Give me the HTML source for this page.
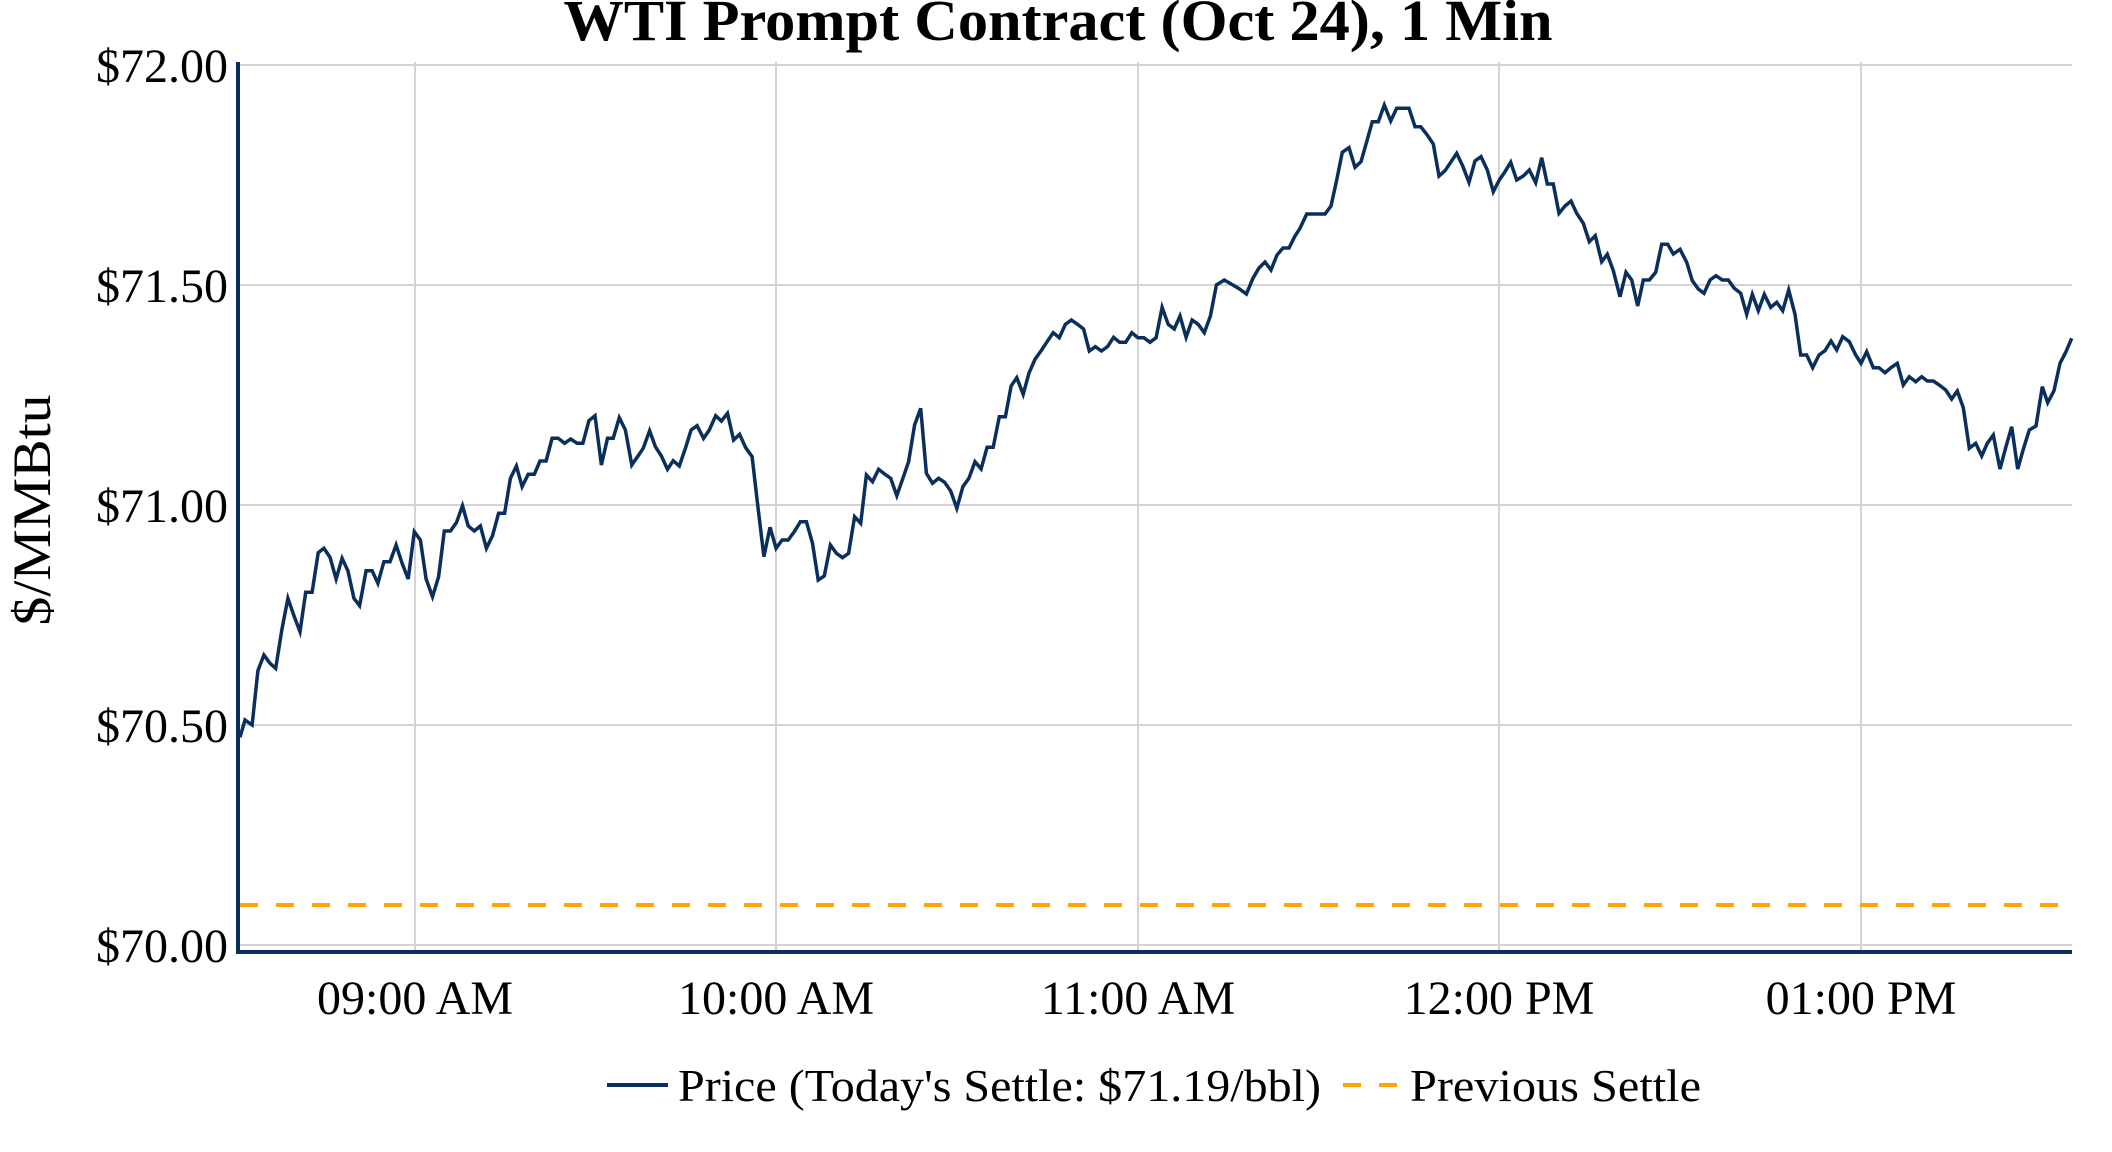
<!DOCTYPE html>
<html><head><meta charset="utf-8"><style>html,body{margin:0;padding:0;background:#fff}svg{display:block}</style></head>
<body>
<svg width="2112" height="1152" viewBox="0 0 2112 1152" xmlns="http://www.w3.org/2000/svg" font-family="'Liberation Serif', serif">
<rect width="2112" height="1152" fill="#fff"/>
<g stroke="#d3d3d3" stroke-width="2">
<line x1="238" y1="65" x2="2072" y2="65"/>
<line x1="238" y1="285" x2="2072" y2="285"/>
<line x1="238" y1="505" x2="2072" y2="505"/>
<line x1="238" y1="725" x2="2072" y2="725"/>
<line x1="238" y1="945" x2="2072" y2="945"/>
<line x1="415" y1="62" x2="415" y2="952"/>
<line x1="776" y1="62" x2="776" y2="952"/>
<line x1="1138" y1="62" x2="1138" y2="952"/>
<line x1="1499" y1="62" x2="1499" y2="952"/>
<line x1="1861" y1="62" x2="1861" y2="952"/>
</g>
<line x1="240" y1="905" x2="2072" y2="905" stroke="#ffa500" stroke-width="4" stroke-dasharray="18 18"/>
<polyline fill="none" stroke="#0a2f5c" stroke-width="3.5" stroke-linejoin="miter" points="240,737.3 245,720 252.1,725 257.9,670.7 263.9,655 270,663.3 275.7,668.3 281.8,630 287.9,598.3 294.3,616.7 300,631.7 305.7,592.3 312.1,592.3 318.2,552.7 323.9,548.3 330,557.3 336.1,579 342.1,558.3 347.9,570.7 353.9,598.3 359.6,605.7 366.1,570.7 372.1,570.7 377.9,583.3 383.9,561.7 390,561.7 396.1,545 402.1,563.3 408.2,579 414.3,531.7 420.4,540 426.1,579 432.5,596.7 438.6,576.7 444.3,531 450.4,531 456.4,522.7 462.5,505.7 468.2,526 474.3,531 480.4,526 486.4,548.3 492.5,535.7 498.6,513.3 504.6,513.3 510.4,478.3 516.4,466 522.1,486.7 528.2,474.3 534.3,474.3 540,461 546.1,461 552.1,438.3 558.2,438.3 564.6,443.3 570.7,439 577.1,443.3 582.9,443.3 588.9,420.7 595,415.7 601.4,465 607.5,438.3 613.2,438.3 619.3,417.7 625.4,430 631.8,465 637.5,456.7 643.2,448.3 649.6,430.7 655.4,446.7 661.4,456 667.5,469.3 673.2,460.7 679.3,466 685.4,448.3 691.1,430 697.1,425.7 703.6,438.3 709.3,430 715.7,415.7 721.4,421 727.5,413.3 733.6,440 739.6,434.3 745.7,447.7 752.1,456.7 757.5,503.3 763.9,556.7 770,527.3 776.1,548.3 782.1,540 788.2,540 794.3,531.7 800.4,521.7 806.4,521.7 812.5,543.3 818.2,580 824.3,576 830.4,545 836.4,553.3 842.5,557.7 848.6,553.3 854.6,516.7 860.7,523.3 866.4,475 872.5,481.7 878.6,469.3 884.6,474 890.7,478.3 896.8,495.7 902.9,478.3 908.6,461.7 914.6,425 920.7,408.3 926.4,473.3 932.5,483.3 938.6,478.3 944.6,482.3 950.7,491 956.8,508.3 962.9,486.7 968.9,478.3 975,461.7 981.1,469 987.1,447.3 993.2,447.3 999.3,416.7 1005.4,416.7 1011.1,386 1016.8,377.7 1023.2,394.3 1028.9,373.3 1035,359.3 1041.1,350.7 1047.1,341.7 1053.2,332.7 1059.3,337.7 1065.4,324.3 1071.4,320 1077.5,324.3 1083.6,329 1089.3,351 1095.4,346.7 1101.4,351 1107.5,346.7 1113.6,337.3 1119.6,342.3 1125.7,342.3 1131.8,332.7 1137.9,337.7 1143.9,337.7 1150,342.3 1156.1,337.7 1162.1,307.3 1168.2,324.3 1174.3,329 1180,316 1186.1,337.3 1192.1,320 1198.2,324.3 1204.3,332.7 1210.4,316 1216.4,285 1224.3,280 1238.6,288.3 1246.4,294 1252.9,278.3 1259,268 1265,262 1271,270 1277,255 1283,248 1289,248 1295,236 1300,228.3 1306.7,214 1313.3,214 1319,214 1325,214 1331,206 1336.7,180 1342.3,152.3 1349,147.7 1355,167.3 1361,161.7 1366.7,141.7 1372.3,121.7 1378.3,121.7 1384.3,105 1390.7,121 1396.7,108.3 1402.7,108.3 1409,108.3 1415,126.7 1420.7,126.7 1426.7,134.3 1433.3,144 1439,176 1445,170.7 1450.7,162.3 1456.7,153.3 1462.7,166 1469,182.3 1475,161 1481,156.7 1487.3,170 1493.3,191.7 1499.3,180 1505,171.7 1510.7,162.3 1516.7,180 1523.3,176 1529.3,170 1535.7,182.7 1541.7,157.7 1547.3,184 1553.3,184 1559,213.3 1565,206 1571,201 1576.7,213.3 1583.3,223.3 1589.3,241.7 1595.3,235.7 1601.7,261.7 1607.3,254.3 1613.3,270.7 1620,296.7 1626,272.3 1631.7,280 1637.7,306 1643.3,280 1649.3,280 1655.7,272.3 1661.7,244.3 1667.7,244.3 1673.3,254 1680,249.3 1686.7,262.3 1692.3,280.7 1698.3,289 1704,293.3 1710,280 1716,275.7 1722.3,280 1728.3,280 1734.3,288.3 1740.7,293.3 1746.7,314.3 1752.3,294.3 1758.3,310.7 1764.3,294.3 1770.7,307.3 1776.7,302.3 1782.7,310.7 1788.7,290 1795,314.3 1800.7,355 1806.7,355 1812.7,367.7 1819,355 1825,350.7 1831,341 1836.7,350 1842.7,336.7 1849.3,341.7 1855.7,355 1861,363.3 1866.7,351.7 1873.3,367.7 1879,367.7 1885,372.7 1891,367.7 1897.3,363.3 1903.3,385 1909.3,376.7 1915.7,381.7 1921.7,376.7 1927.3,381 1933.3,381 1939.3,385 1945.7,390 1951.7,399 1957.3,391 1963.3,407.7 1969.3,448.3 1975.7,443.3 1981.7,456 1987.3,443.3 1993.3,435 2000,469 2005.7,447.7 2011.7,426.7 2017.7,469 2023.3,449.3 2029.3,430 2036,426 2042.3,386.7 2047.7,402.7 2054,390.7 2060,363.3 2066,351.7 2071.7,338.3"/>
<line x1="238" y1="62" x2="238" y2="954" stroke="#0a2f5c" stroke-width="4"/>
<line x1="236" y1="952" x2="2072" y2="952" stroke="#0a2f5c" stroke-width="4"/>
<g font-size="48" fill="#000" text-anchor="end">
<text x="228" y="82">$72.00</text>
<text x="228" y="302">$71.50</text>
<text x="228" y="522">$71.00</text>
<text x="228" y="742">$70.50</text>
<text x="228" y="962">$70.00</text>
</g>
<g font-size="48" fill="#000" text-anchor="middle">
<text x="415" y="1014">09:00 AM</text>
<text x="776" y="1014">10:00 AM</text>
<text x="1138" y="1014">11:00 AM</text>
<text x="1499" y="1014">12:00 PM</text>
<text x="1861" y="1014">01:00 PM</text>
</g>
<text x="1058" y="40" font-size="58" font-weight="bold" text-anchor="middle" textLength="989" lengthAdjust="spacingAndGlyphs">WTI Prompt Contract (Oct 24), 1 Min</text>
<text transform="translate(50,510) rotate(-90)" font-size="54" text-anchor="middle" textLength="231" lengthAdjust="spacingAndGlyphs">$/MMBtu</text>
<line x1="607" y1="1085" x2="668" y2="1085" stroke="#0a2f5c" stroke-width="4"/>
<text x="678" y="1101" font-size="46" textLength="643" lengthAdjust="spacingAndGlyphs">Price (Today's Settle: $71.19/bbl)</text>
<line x1="1343" y1="1085" x2="1399" y2="1085" stroke="#ffa500" stroke-width="4" stroke-dasharray="18 18"/>
<text x="1410" y="1101" font-size="46" textLength="291" lengthAdjust="spacingAndGlyphs">Previous Settle</text>
</svg>
</body></html>
